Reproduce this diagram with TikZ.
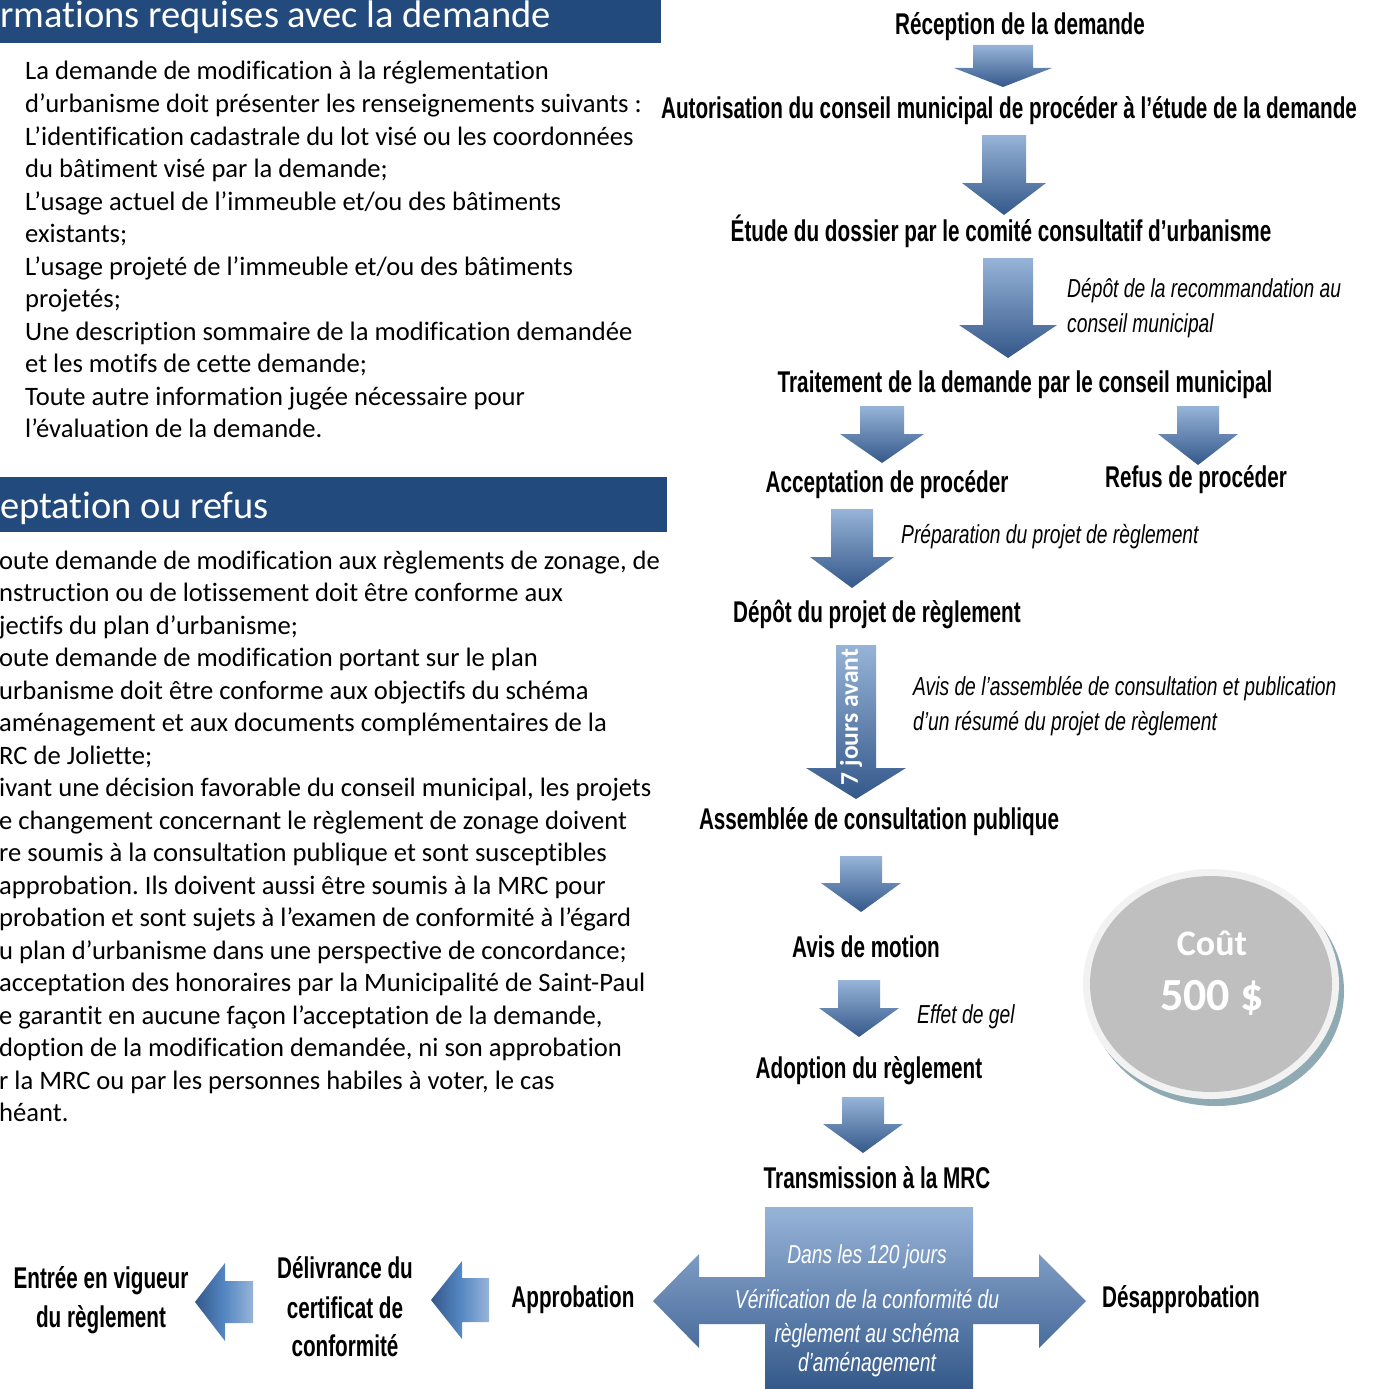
\documentclass[tikz,border=0pt]{standalone}
\usepackage{fontspec}
\setmainfont{Carlito}[Ligatures=NoCommon]
\newfontfamily\agency[FakeStretch=0.69]{Liberation Sans}
\newfontfamily\agencyit[FakeStretch=0.74]{Liberation Sans}
\frenchspacing

\definecolor{headblue}{RGB}{35,74,124}
\definecolor{arrtop}{RGB}{151,180,216}
\definecolor{arrmid}{RGB}{84,134,194}
\definecolor{arrbot}{RGB}{52,88,138}
\definecolor{ringgray}{RGB}{242,242,242}
\definecolor{coingray}{RGB}{191,191,191}
\definecolor{coinshadow}{RGB}{143,170,178}

\tikzset{flow/.style={font=\agency\bfseries\fontsize{30}{36}\selectfont, anchor=base, inner sep=0},
  note/.style={font=\agencyit\itshape\fontsize{26}{32}\selectfont, anchor=base west, inner sep=0},
  body/.style={font=\fontsize{26.6}{32.5}\selectfont, anchor=base west, inner sep=0},
  bar text/.style={font=\fontsize{38.5}{44}\selectfont, text=white, anchor=base west, inner sep=0},
  arrfill/.style={top color=arrtop, middle color=arrmid, bottom color=arrbot}}

% x, top, head base, tip, shaft half, head half
\newcommand{\downblock}[6]{%
  \shade[arrfill] (#1-#5,#2) -- (#1+#5,#2) -- (#1+#5,#3) -- (#1+#6,#3) -- (#1,#4)
    -- (#1-#6,#3) -- (#1-#5,#3) -- cycle;}
% tip x, y, head base x, shaft end x, shaft half, head half
\newcommand{\leftblock}[6]{%
  \shade[left color=arrbot, right color=arrtop, middle color=arrmid] (#1,#2) -- (#3,#2-#6)
    -- (#3,#2-#5) -- (#4,#2-#5) -- (#4,#2+#5) -- (#3,#2+#5) -- (#3,#2+#6) -- cycle;}

\begin{document}
\begin{tikzpicture}[x=1pt,y=-1pt]
\useasboundingbox (0,0) rectangle (1373,1389);
\clip (0,0) rectangle (1373,1389);
\fill[white] (0,0) rectangle (1373,1389);

% left column
\fill[headblue] (0,0) rectangle (661,43);
\node[bar text] (head1) at (0,28) {rmations requises avec la demande};
\foreach \txt [count=\i] in {{La demande de modification à la réglementation},
  {d’urbanisme doit présenter les renseignements suivants :},
  {L’identification cadastrale du lot visé ou les coordonnées},
  {du bâtiment visé par la demande;},
  {L’usage actuel de l’immeuble et/ou des bâtiments},
  {existants;},
  {L’usage projeté de l’immeuble et/ou des bâtiments},
  {projetés;},
  {Une description sommaire de la modification demandée},
  {et les motifs de cette demande;},
  {Toute autre information jugée nécessaire pour},
  {l’évaluation de la demande.}}
  \node[body] (info-\i) at (25,80+32.5*\i-32.5) {\txt};

\fill[headblue] (0,477) rectangle (667,532);
\node[bar text] (head2) at (0,518) {eptation ou refus};
\foreach \txt [count=\i] in {{oute demande de modification aux règlements de zonage, de},
  {nstruction ou de lotissement doit être conforme aux},
  {jectifs du plan d’urbanisme;},
  {oute demande de modification portant sur le plan},
  {urbanisme doit être conforme aux objectifs du schéma},
  {aménagement et aux documents complémentaires de la},
  {RC de Joliette;},
  {ivant une décision favorable du conseil municipal, les projets},
  {e changement concernant le règlement de zonage doivent},
  {re soumis à la consultation publique et sont susceptibles},
  {approbation. Ils doivent aussi être soumis à la MRC pour},
  {probation et sont sujets à l’examen de conformité à l’égard},
  {u plan d’urbanisme dans une perspective de concordance;},
  {acceptation des honoraires par la Municipalité de Saint-Paul},
  {e garantit en aucune façon l’acceptation de la demande,},
  {doption de la modification demandée, ni son approbation},
  {r la MRC ou par les personnes habiles à voter, le cas},
  {héant.}}
  \node[body] (regle-\i) at (-1,569+32.5*\i-32.5) {\txt};

% flowchart
\node[flow] (rec) at (1020,35) {Réception de la demande};
\downblock{1003}{45}{68}{87}{30}{49}
\node[flow] (aut) at (1009,118) {Autorisation du conseil municipal de procéder à l’étude de la demande};
\downblock{1004}{135}{183}{215}{22}{42}
\node[flow] (etu) at (1001,241) {Étude du dossier par le comité consultatif d’urbanisme};
\downblock{1008}{258}{325}{358}{25}{49}
\node[note] (recom1) at (1067,297) {Dépôt de la recommandation au};
\node[note] (recom2) at (1067,332) {conseil municipal};
\node[flow] (tra) at (1025,392) {Traitement de la demande par le conseil municipal};
\downblock{882}{406}{434}{463}{22}{42}
\downblock{1198}{406}{434}{465}{21}{40}
\node[flow] (acc) at (887,492) {Acceptation de procéder};
\node[flow] (ref) at (1196,487) {Refus de procéder};
\downblock{852}{509}{557}{588}{21}{42}
\node[note] (prep) at (901,543) {Préparation du projet de règlement};
\node[flow] (dep) at (877,622) {Dépôt du projet de règlement};
\downblock{856}{645}{768}{799}{20}{50}
\node[rotate=90, font=\bfseries\fontsize{25.5}{30}\selectfont, text=white, inner sep=0] (sept) at (851,717) {7 jours avant};
\node[note] (avis1) at (913,695) {Avis de l’assemblée de consultation et publication};
\node[note] (avis2) at (913,730) {d’un résumé du projet de règlement};
\node[flow] (ass) at (879,829) {Assemblée de consultation publique};
\downblock{861}{856}{883}{912}{21}{40}
\node[flow] (mot) at (866,957) {Avis de motion};
\downblock{859}{980}{1008}{1037}{21}{40}
\node[note] (gel) at (917,1023) {Effet de gel};
\node[flow] (ado) at (869,1078) {Adoption du règlement};
\downblock{863}{1097}{1124}{1153}{21}{40}
\node[flow] (trm) at (877,1188) {Transmission à la MRC};

% MRC decision
\shade[arrfill] (765,1207) -- (973,1207) -- (973,1277) -- (1039,1277) -- (1039,1254) -- (1086,1301)
  -- (1039,1348) -- (1039,1324) -- (973,1324) -- (973,1389) -- (765,1389) -- (765,1324)
  -- (699,1324) -- (699,1348) -- (653,1301) -- (699,1254) -- (699,1277) -- (765,1277) -- cycle;
\node[note, anchor=base, text=white] (ver1) at (867,1263) {Dans les 120 jours};
\node[note, anchor=base, text=white] (ver2) at (867,1308) {Vérification de la conformité du};
\node[note, anchor=base, text=white] (ver3) at (867,1342) {règlement au schéma};
\node[note, anchor=base, text=white] (ver4) at (867,1371) {d’aménagement};
\node[flow] (app) at (573,1307) {Approbation};
\node[flow] (des) at (1181,1307) {Désapprobation};
\leftblock{431}{1300}{462}{489}{22}{39}
\node[flow] (del1) at (345,1278) {Délivrance du};
\node[flow] (del2) at (345,1318) {certificat de};
\node[flow] (del3) at (345,1356) {conformité};
\leftblock{195}{1302}{225}{253}{21}{39}
\node[flow] (ent1) at (101,1288) {Entrée en vigueur};
\node[flow] (ent2) at (101,1327) {du règlement};

% cost
\fill[coinshadow] (1216,991) ellipse [x radius=128, y radius=115];
\fill[ringgray] (1211,984) ellipse [x radius=128, y radius=115];
\fill[coingray] (1211,984) ellipse [x radius=121, y radius=108];
\node[font=\bfseries\fontsize{36}{40}\selectfont, text=white, anchor=base, inner sep=0] (cout) at (1212,955) {Coût};
\node[font=\bfseries\fontsize{46}{50}\selectfont, text=white, anchor=base, inner sep=0] (prix) at (1212,1010) {500 \$};
\end{tikzpicture}
\end{document}
